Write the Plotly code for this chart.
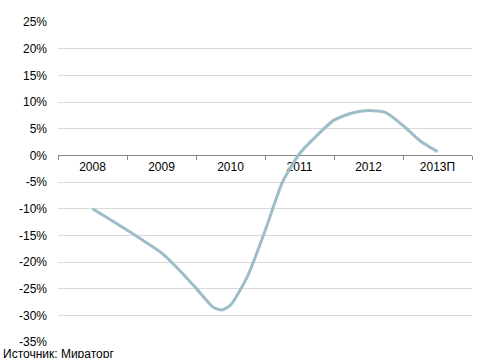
import plotly.graph_objects as go

categories = ["2008", "2009", "2010", "2011", "2012", "2013П"]
x_pos = [0, 0.25, 0.5, 0.75, 1.0, 1.25, 1.5, 1.75, 1.875, 2.0, 2.25, 2.5, 2.75,
         3.0, 3.25, 3.5, 3.75, 4.0, 4.25, 4.5, 4.75, 5.0]
values = [-10.0, -12.0, -14.0, -16.1, -18.3, -21.4, -24.9, -28.5, -29.0, -28.1, -22.6, -14.2, -5.1,
          0.3, 3.7, 6.6, 7.9, 8.4, 8.0, 5.6, 2.7, 0.7]
y_ticks = [25, 20, 15, 10, 5, 0, -5, -10, -15, -20, -25, -30, -35]
y_labels = [f"{v}%" for v in y_ticks]
title_text = "<b>Изменение цены производителей (%)</b>"
source_text = "Источник: Мираторг"

FONT = "Arial, Liberation Sans, sans-serif"
y_min, y_max = -35, 25

fig = go.Figure()
fig.add_trace(go.Scatter(
    x=x_pos, y=values, mode="lines",
    line=dict(color="#9DBDC8", width=3, shape="spline", smoothing=0.6),
    xaxis="x", yaxis="y", hoverinfo="skip", showlegend=False,
))
fig.add_trace(go.Scatter(
    x=categories, y=[0] * len(categories), mode="markers",
    marker=dict(opacity=0), xaxis="x2", yaxis="y",
    hoverinfo="skip", showlegend=False,
))

fig.update_layout(
    width=478, height=358,
    margin=dict(l=58, r=6, t=22, b=16),
    paper_bgcolor="white", plot_bgcolor="white",
    font=dict(family=FONT, size=12, color="#000000"),
    xaxis=dict(range=[-0.5, 5.5], visible=False, showgrid=False, zeroline=False),
    xaxis2=dict(
        type="category", overlaying="x", anchor="free",
        position=(0 - y_min) / (y_max - y_min), side="bottom",
        range=[-0.5, 5.5], tickson="boundaries",
        ticks="outside", ticklen=4, tickcolor="#868686", tickwidth=1,
        showline=True, linecolor="#868686", linewidth=1,
        showgrid=False, zeroline=False, layer="below traces",
        tickfont=dict(family=FONT, size=12, color="#000000"),
    ),
    yaxis=dict(
        range=[y_min, y_max], tickvals=y_ticks, ticktext=y_labels,
        showgrid=True, gridcolor="#D9D9D9", gridwidth=1,
        zeroline=False, showline=False, ticks="",
        ticklabelstandoff=10,
        tickfont=dict(family=FONT, size=12, color="#000000"),
    ),
    annotations=[
        dict(text=source_text, xref="paper", yref="paper", x=0, xshift=-57,
             y=0, yshift=-3, xanchor="left", yanchor="top", showarrow=False,
             font=dict(family=FONT, size=12, color="#000000")),
        dict(text=title_text, xref="paper", yref="paper", x=0.5, y=1,
             yshift=21, xanchor="center", yanchor="bottom", showarrow=False,
             font=dict(family=FONT, size=14, color="#000000")),
    ],
)

fig.write_html("out.html")
